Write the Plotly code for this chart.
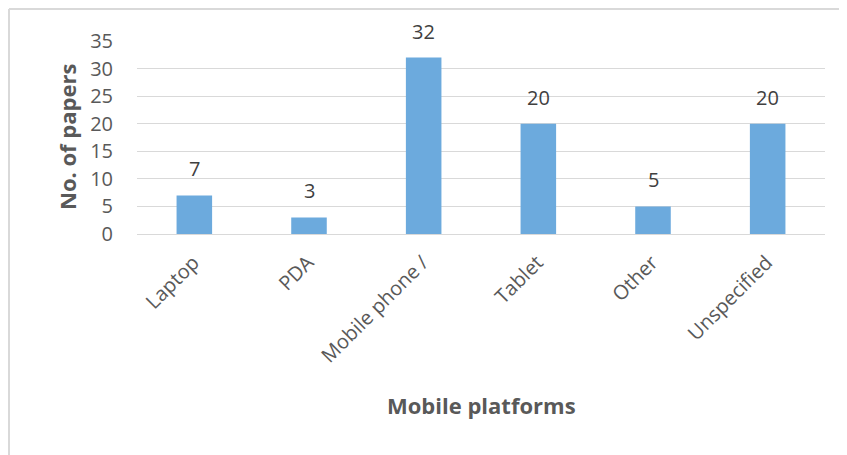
import plotly.graph_objects as go

categories = ["Laptop", "PDA", "Mobile phone /", "Tablet", "Other", "Unspecified"]
papers = [7, 3, 32, 20, 5, 20]
y_ticks = [0, 5, 10, 15, 20, 25, 30, 35]

# page body has an 8px margin, so the figure starts at (8, 8) on screen
OFF = 8
W, H = 847 - OFF, 455 - OFF
ML, MR, MT, MB = 137 - OFF, 22, 41 - OFF, 221
PW = W - ML - MR
PH = H - MT - MB

FONT = "Open Sans"

fig = go.Figure()
fig.add_trace(go.Bar(
    x=categories, y=papers,
    marker=dict(color="#6CAADD", line=dict(width=0)),
    width=0.31,
    hoverinfo="x+y",
))

for c, v in zip(categories, papers):
    fig.add_annotation(x=c, y=v, text=str(v), showarrow=False,
                       yanchor="bottom", yshift=11,
                       font=dict(family=FONT, size=20, color="#404040"))

def px_x(p):
    return (p - OFF - ML) / PW

def px_y(p):
    return 1 - (p - OFF - MT) / PH

# outer chart border (left and top edges visible)
fig.add_shape(type="line", xref="paper", yref="paper",
              x0=px_x(9), x1=px_x(860), y0=px_y(9), y1=px_y(9),
              line=dict(color="#D9D9D9", width=2))
fig.add_shape(type="line", xref="paper", yref="paper",
              x0=px_x(9), x1=px_x(9), y0=px_y(9), y1=px_y(470),
              line=dict(color="#D9D9D9", width=2))

fig.update_layout(
    width=W, height=H,
    margin=dict(l=ML, r=MR, t=MT, b=MB, autoexpand=False),
    paper_bgcolor="white", plot_bgcolor="white",
    showlegend=False,
    bargap=0.69,
    font=dict(family=FONT, color="#595959"),
    xaxis=dict(
        automargin=False,
        tickangle=-45,
        tickfont=dict(family=FONT, size=20, color="#595959"),
        showgrid=False, showline=True, linecolor="#D9D9D9", linewidth=1,
        ticks="outside", ticklen=8, tickcolor="rgba(0,0,0,0)",
        ticklabelshift=-1,
    ),
    yaxis=dict(
        automargin=False,
        range=[0, 35], tickvals=y_ticks,
        tickfont=dict(family=FONT, size=20, color="#595959"),
        showgrid=True, gridcolor="#D9D9D9", gridwidth=1,
        zeroline=False, showline=False,
        ticks="outside", ticklen=19, tickcolor="rgba(0,0,0,0)",
    ),
)

fig.add_annotation(text="<b>Mobile platforms</b>", xref="paper", yref="paper",
                   x=px_x(481), y=px_y(405), showarrow=False,
                   xanchor="center", yanchor="middle",
                   font=dict(family=FONT, size=22, color="#595959"))
fig.add_annotation(text="<b>No. of papers</b>", xref="paper", yref="paper",
                   x=px_x(67), y=px_y(137), showarrow=False, textangle=-90,
                   xanchor="center", yanchor="middle",
                   font=dict(family=FONT, size=22, color="#595959"))

fig.write_html("out.html")
